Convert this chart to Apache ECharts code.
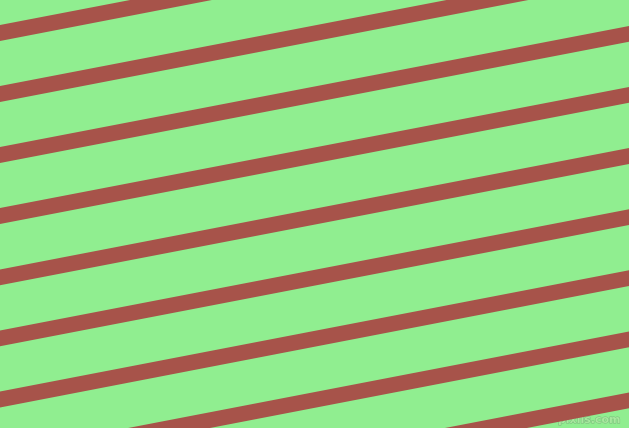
<!DOCTYPE html>
<html>
<head>
<meta charset="utf-8">
<script src="https://cdn.jsdelivr.net/npm/echarts@6/dist/echarts.min.js"></script>
<style>html,body{margin:0;padding:0;}#c{width:629px;height:428px;}</style>
</head>
<body>
<div id="c"></div>
<script>
// Stripe centre y (pixels from top) at the left edge (x=0) and right edge (x=629)
const leftY  = [33, 94, 155, 216, 277.3, 338.4, 399.5, 460.6, 521.7];
const rightY = [-88.4, -27.3, 33.8, 94.9, 156, 217.1, 278.2, 339.3, 400.4];
const xEnds = [0, 629];

const chart = echarts.init(document.getElementById('c'), null, {renderer: 'canvas'});
const series = leftY.map((ly, i) => ({
  type: 'line',
  data: [[xEnds[0], ly], [xEnds[1], rightY[i]]],
  symbol: 'none',
  clip: true,
  silent: true,
  animation: false,
  lineStyle: {color: '#a7534a', width: 15.5, cap: 'square'}
}));
chart.setOption({
  backgroundColor: '#90ee90',
  animation: false,
  grid: {left: 0, right: 0, top: 0, bottom: 0},
  xAxis: {type: 'value', min: 0, max: 629, show: false},
  yAxis: {type: 'value', min: 0, max: 428, inverse: true, show: false},
  series: series,
  graphic: [{
    type: 'text',
    right: 8,
    bottom: 2,
    style: {
      text: 'pixlis.com',
      font: 'bold 11px "DejaVu Sans"',
      fill: 'rgba(170,235,160,0.9)',
      stroke: 'rgba(110,140,110,0.55)',
      lineWidth: 1
    }
  }]
});
</script>
</body>
</html>
